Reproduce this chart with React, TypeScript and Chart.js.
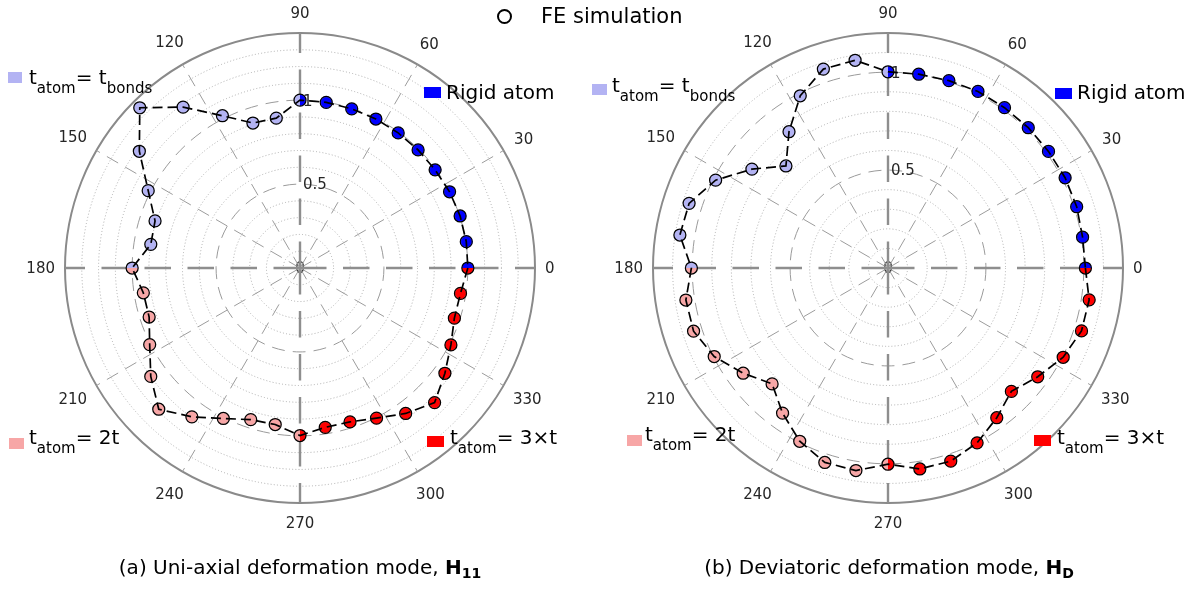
import React, { useEffect, useRef } from 'react';
import { Chart, registerables } from 'chart.js';

Chart.register(...registerables);

// ---------------- data ----------------
const ANGLES_DEG = [
  0, 9, 18, 27, 36, 45, 54, 63, 72, 81,
  90, 99, 108, 117, 126, 135, 144, 153, 162, 171,
  180, 189, 198, 207, 216, 225, 234, 243, 252, 261,
  270, 279, 288, 297, 306, 315, 324, 333, 342, 351,
];

const RATIO_UNIAXIAL = [
  1.0, 1.003, 1.003, 1.0, 0.995, 0.995, 0.995, 0.996, 0.997, 0.999,
  1.0, 0.904, 0.908, 1.018, 1.185, 1.35, 1.183, 1.015, 0.908, 0.9,
  1.0, 0.945, 0.945, 1.005, 1.099, 1.19, 1.096, 1.006, 0.95, 0.944,
  0.998, 0.961, 0.964, 1.004, 1.071, 1.134, 1.067, 1.009, 0.967, 0.968,
];

const RATIO_DEVIATORIC = [
  1.008, 1.006, 1.013, 1.015, 1.013, 1.013, 1.012, 1.012, 1.006, 1.002,
  1.002, 1.074, 1.068, 0.987, 0.86, 0.737, 0.859, 0.988, 1.068, 1.076,
  1.004, 1.045, 1.044, 0.996, 0.914, 0.837, 0.916, 0.993, 1.044, 1.047,
  1.002, 1.039, 1.037, 1.002, 0.945, 0.891, 0.945, 1.004, 1.039, 1.04,
];

const ANGLE_TICK_LABELS = [0, 30, 60, 90, 120, 150, 180, 210, 240, 270, 300, 330];
const RADIAL_TICK_LABELS = [0, 0.5, 1];
const R_MAX_UNIAXIAL = 1.4;
const R_MAX_DEVIATORIC = 1.2;
// angular resolution of the category axis (common divisor of 9° data and 30° grid)
const ANGLE_AXIS_STEP = 3;

// ---------------- styles ----------------
const FONT = '"DejaVu Sans", sans-serif';
const TICK_FONT = '"DejaVu Sans", sans-serif';
const C_BLUE = '#0000ff';
const C_LBLUE = '#b3b3f3';
const C_PINK = '#f7a6a6';
const C_RED = '#ff0000';
const MARKER_R = 6;

function makeMarker(a: string, b: string | null, split: 'h' | 'v') {
  const s = 2 * Math.ceil(MARKER_R + 1);
  const c = document.createElement('canvas');
  c.width = s;
  c.height = s;
  const g = c.getContext('2d') as CanvasRenderingContext2D;
  const m = s / 2;
  if (!b) {
    g.beginPath();
    g.arc(m, m, MARKER_R, 0, Math.PI * 2);
    g.fillStyle = a;
    g.fill();
  } else if (split === 'h') {
    g.beginPath();
    g.arc(m, m, MARKER_R, Math.PI, Math.PI * 2);
    g.closePath();
    g.fillStyle = a;
    g.fill();
    g.beginPath();
    g.arc(m, m, MARKER_R, 0, Math.PI);
    g.closePath();
    g.fillStyle = b;
    g.fill();
  } else {
    g.beginPath();
    g.arc(m, m, MARKER_R, Math.PI / 2, (3 * Math.PI) / 2);
    g.closePath();
    g.fillStyle = a;
    g.fill();
    g.beginPath();
    g.arc(m, m, MARKER_R, -Math.PI / 2, Math.PI / 2);
    g.closePath();
    g.fillStyle = b;
    g.fill();
  }
  return c;
}

function markerFor(a: number) {
  if (a === 0) return makeMarker(C_BLUE, C_RED, 'h');
  if (a === 90) return makeMarker(C_LBLUE, C_BLUE, 'v');
  if (a === 180) return makeMarker(C_LBLUE, C_PINK, 'h');
  if (a === 270) return makeMarker(C_PINK, C_RED, 'v');
  if (a < 90) return makeMarker(C_BLUE, null, 'h');
  if (a < 180) return makeMarker(C_LBLUE, null, 'h');
  if (a < 270) return makeMarker(C_PINK, null, 'h');
  return makeMarker(C_RED, null, 'h');
}

const near = (v: number, t: number) => Math.abs(v - t) < 1e-6;

const polarTextPlugin = {
  id: 'polarText',
  beforeDraw(chart: any) {
    const s = chart.scales.r;
    const ctx = chart.ctx as CanvasRenderingContext2D;
    ctx.save();
    ctx.font = `16px ${TICK_FONT}`;
    ctx.fillStyle = '#3c3c3c';
    ctx.textAlign = 'center';
    ctx.textBaseline = 'middle';
    ctx.fillText(String(RADIAL_TICK_LABELS[0]), s.xCenter, s.yCenter + 1);
    ctx.restore();
  },
  beforeDatasetsDraw(chart: any) {
    const s = chart.scales.r;
    const ctx = chart.ctx as CanvasRenderingContext2D;
    ctx.save();
    ctx.font = `15px ${TICK_FONT}`;
    ctx.fillStyle = '#262626';
    ctx.textAlign = 'left';
    ctx.textBaseline = 'middle';
    RADIAL_TICK_LABELS.forEach((v) => {
      if (v === 0) return;
      const d = s.getDistanceFromCenterForValue(v);
      ctx.fillText(String(v), s.xCenter + 3, s.yCenter - d + 1.5);
    });
    ctx.restore();
  },
  afterDraw(chart: any) {
    const s = chart.scales.r;
    const ctx = chart.ctx as CanvasRenderingContext2D;
    const labels = chart.data.labels as number[];
    ctx.save();
    ctx.font = `15px ${TICK_FONT}`;
    ctx.fillStyle = '#262626';
    ctx.textAlign = 'center';
    ctx.textBaseline = 'middle';
    ANGLE_TICK_LABELS.forEach((a) => {
      const idx = labels.indexOf(a);
      if (idx < 0) return;
      const txt = String(a);
      const w = ctx.measureText(txt).width;
      const dir = s.getPointPosition(idx, 1);
      const c = Math.abs(Math.cos(dir.angle));
      const sn = Math.abs(Math.sin(dir.angle));
      const dist = s.drawingArea + 10 + (w / 2) * c + 10 * sn;
      const p = s.getPointPosition(idx, dist);
      ctx.fillText(txt, p.x, p.y + 1);
    });
    ctx.restore();
  },
};

function buildConfig(values: number[], rMax: number, pad: any) {
  // category axis running clockwise from 0° (Chart.js radar direction), so that the
  // drawn angles increase counter-clockwise like a mathematical polar plot
  const nAxis = 360 / ANGLE_AXIS_STEP;
  const labels: number[] = [];
  for (let i = 0; i < nAxis; i++) labels.push((360 - i * ANGLE_AXIS_STEP) % 360);
  const data = labels.map((a) => {
    const k = ANGLES_DEG.indexOf(a);
    return k >= 0 ? values[k] : null;
  });
  const markers = labels.map((a) => (ANGLES_DEG.indexOf(a) >= 0 ? markerFor(a) : false));
  const none = 'rgba(0,0,0,0)';
  return {
    type: 'radar' as const,
    data: {
      labels,
      datasets: [
        {
          label: 'FE simulation',
          data,
          showLine: false,
          fill: false,
          backgroundColor: none,
          pointRadius: MARKER_R,
          pointBorderWidth: 1.25,
          pointBorderColor: '#000',
          pointBackgroundColor: none,
          order: 1,
        },
        {
          label: 'trend',
          data,
          spanGaps: true,
          borderColor: '#000',
          backgroundColor: none,
          borderWidth: 1.7,
          borderDash: [10, 5],
          pointRadius: 0,
          fill: false,
          order: 2,
        },
        {
          label: 'material',
          data,
          showLine: false,
          fill: false,
          backgroundColor: none,
          pointStyle: markers,
          pointRadius: MARKER_R,
          order: 3,
        },
      ],
    },
    options: {
      responsive: false,
      animation: false as const,
      events: [],
      layout: { padding: pad },
      plugins: { legend: { display: false }, tooltip: { enabled: false } },
      scales: {
        r: {
          min: 0,
          max: rMax,
          startAngle: 90,
          ticks: { display: false, stepSize: 0.1 },
          pointLabels: { display: false },
          grid: {
            circular: true,
            color: (c: any) => {
              const v = c.tick ? c.tick.value : 0;
              if (near(v, rMax)) return '#8a8a8a';
              if (near(v, 0.5) || near(v, 1)) return '#9a9a9a';
              return '#acacac';
            },
            lineWidth: (c: any) => {
              const v = c.tick ? c.tick.value : 0;
              return near(v, rMax) ? 2 : 1;
            },
          },
          border: {
            dash: (c: any) => {
              const v = c.tick ? c.tick.value : 0;
              if (near(v, rMax)) return [];
              if (near(v, 0.5) || near(v, 1)) return [13, 8];
              return [1, 2.2];
            },
          },
          angleLines: {
            display: true,
            color: (c: any) => {
              const a = Number(c.label);
              if (a % 30 !== 0) return none;
              return a % 90 === 0 ? '#8e8e8e' : '#9c9c9c';
            },
            lineWidth: (c: any) => {
              const a = Number(c.label);
              if (a % 30 !== 0) return 0;
              return a % 90 === 0 ? 2.4 : 1;
            },
            borderDash: (c: any) => {
              const a = Number(c.label);
              return a % 90 === 0 ? [26.5, 16.5] : [13, 8];
            },
          },
        },
      },
    },
    plugins: [polarTextPlugin],
  };
}

function PolarPanel(props: { values: number[]; rMax: number; left: number; width: number; pad: any }) {
  const ref = useRef<HTMLCanvasElement>(null);
  useEffect(() => {
    const canvas = ref.current as HTMLCanvasElement;
    const chart = new Chart(canvas, buildConfig(props.values, props.rMax, props.pad) as any);
    return () => chart.destroy();
  }, []);
  return (
    <canvas
      ref={ref}
      width={props.width}
      height={590}
      style={{ position: 'absolute', left: props.left, top: 0, width: props.width, height: 590 }}
    />
  );
}

// ---------------- text helpers ----------------
const ASC = 0.928; // DejaVu Sans ascent
const LH = 1.164; // DejaVu Sans ascent + descent

function Txt(props: { x: number; base: number; size: number; center?: boolean; children: any }) {
  return (
    <div
      style={{
        position: 'absolute',
        left: props.x,
        top: props.base - ASC * props.size,
        fontSize: props.size,
        lineHeight: LH,
        whiteSpace: 'nowrap',
        color: '#000',
        transform: props.center ? 'translateX(-50%)' : undefined,
      }}
    >
      {props.children}
    </div>
  );
}

function Sub(props: { size: number; drop: number; children: any; bold?: boolean }) {
  return (
    <span style={{ fontSize: props.size, position: 'relative', top: props.drop, fontWeight: props.bold ? 700 : 400 }}>
      {props.children}
    </span>
  );
}

function Swatch(props: { x: number; y: number; w: number; h: number; color: string }) {
  return (
    <div style={{ position: 'absolute', left: props.x, top: props.y, width: props.w, height: props.h, background: props.color }} />
  );
}

function Tatom(props: { rest: any }) {
  return (
    <>
      t<Sub size={15} drop={9}>atom</Sub>
      {props.rest}
    </>
  );
}

export default function App() {
  return (
    <div
      style={{
        position: 'fixed',
        left: 0,
        top: 0,
        width: 1195,
        height: 590,
        background: '#fff',
        fontFamily: FONT,
        overflow: 'hidden',
      }}
    >
      <PolarPanel values={RATIO_UNIAXIAL} rMax={R_MAX_UNIAXIAL} left={0} width={595} pad={{ left: 65, top: 33, right: 60, bottom: 87 }} />
      <PolarPanel values={RATIO_DEVIATORIC} rMax={R_MAX_DEVIATORIC} left={595} width={600} pad={{ left: 58, top: 33, right: 72, bottom: 87 }} />

      {/* shared legend */}
      <div
        style={{
          position: 'absolute',
          left: 497,
          top: 9,
          width: 15,
          height: 15,
          border: '2.4px solid #000',
          borderRadius: '50%',
          boxSizing: 'border-box',
        }}
      />
      <Txt x={541} base={23.5} size={21}>FE simulation</Txt>

      {/* left panel annotations */}
      <Swatch x={8} y={72} w={14} h={11} color={C_LBLUE} />
      <Txt x={29} base={85} size={20}>
        <Tatom rest={<>= t<Sub size={15} drop={9}>bonds</Sub></>} />
      </Txt>
      <Swatch x={424} y={87} w={17} h={11} color={C_BLUE} />
      <Txt x={446} base={99.5} size={20}>Rigid atom</Txt>
      <Swatch x={9} y={438} w={15} h={11} color={C_PINK} />
      <Txt x={29} base={445} size={20}>
        <Tatom rest={<>= 2t</>} />
      </Txt>
      <Swatch x={427} y={436} w={17} h={11} color={C_RED} />
      <Txt x={450} base={445} size={20}>
        <Tatom rest={<>= 3×t</>} />
      </Txt>

      {/* right panel annotations */}
      <Swatch x={592} y={84} w={15} h={11} color={C_LBLUE} />
      <Txt x={612} base={93} size={20}>
        <Tatom rest={<>= t<Sub size={15} drop={9}>bonds</Sub></>} />
      </Txt>
      <Swatch x={1055} y={88} w={17} h={11} color={C_BLUE} />
      <Txt x={1077} base={100} size={20}>Rigid atom</Txt>
      <Swatch x={627} y={435} w={15} h={11} color={C_PINK} />
      <Txt x={645} base={442} size={20}>
        <Tatom rest={<>= 2t</>} />
      </Txt>
      <Swatch x={1034} y={435} w={17} h={11} color={C_RED} />
      <Txt x={1057} base={445} size={20}>
        <Tatom rest={<>= 3×t</>} />
      </Txt>

      {/* captions */}
      <Txt x={300} base={575} size={20} center>
        (a) Uni-axial deformation mode, <b>H<Sub size={14} drop={4} bold>11</Sub></b>
      </Txt>
      <Txt x={889} base={575} size={20} center>
        (b) Deviatoric deformation mode, <b>H<Sub size={14} drop={4} bold>D</Sub></b>
      </Txt>
    </div>
  );
}
